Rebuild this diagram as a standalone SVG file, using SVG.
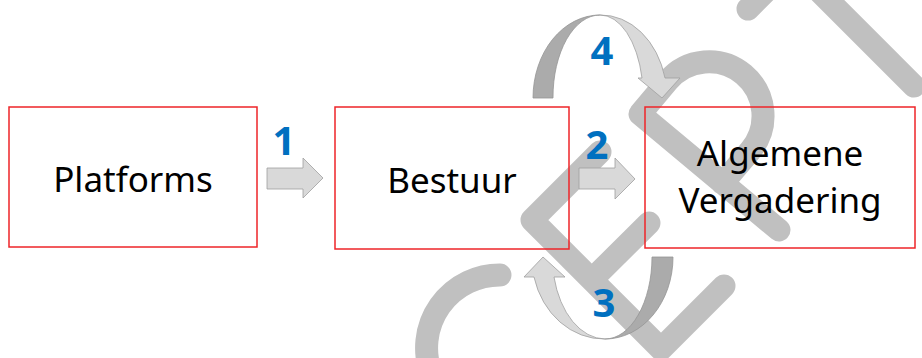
<svg xmlns="http://www.w3.org/2000/svg" width="922" height="358" viewBox="0 0 922 358">
<style>
.wm{fill:none;stroke:#C0C0C0;stroke-width:23;stroke-linecap:round;stroke-linejoin:round}
.box{fill:none;stroke:#EE2428;stroke-width:1.5}
.lbl{font-family:"Noto Sans","Open Sans",sans-serif;font-size:35px;fill:#000;text-anchor:middle}
.num{font-family:"Noto Sans","Open Sans",sans-serif;font-size:40px;font-weight:bold;fill:#0070C0;text-anchor:middle}
.lt{fill:#D9D9D9;stroke:#A0A0A0;stroke-width:0.8;stroke-linejoin:miter}
.dk{fill:#ABABAB;stroke:#959595;stroke-width:0.8}
</style>
<rect width="922" height="358" fill="#FFFFFF"/>
<g id="watermark">
<path class="wm" d="M500,275 A73,73 0 0 0 431,373"/>
<path class="wm" d="M600,152 L532,220 L661,349 L724,286 M591.75,279.75 L649,223"/>
<path class="wm" d="M779,230 L640,114 L667.6,81.1 A54,54 0 0 1 750.4,150.5 L722.7,183.4"/>
<path class="wm" d="M820,-8 L914,86 M748,9 L772,-15"/>
</g>
<g id="platforms">
<rect class="box" x="9" y="107" width="248" height="140"/>
<text class="lbl" x="133" y="192">Platforms</text>
</g>
<g id="bestuur">
<rect class="box" x="335" y="107" width="234" height="142"/>
<text class="lbl" x="452" y="193">Bestuur</text>
</g>
<g id="algemene-vergadering">
<rect class="box" x="645" y="107" width="270" height="141"/>
<text class="lbl" x="780" y="166">Algemene</text>
<text class="lbl" x="780" y="213">Vergadering</text>
</g>
<g id="connectors">
<path class="lt" d="M267,168 L303,168 L303,158 L323,178 L303,198 L303,189 L267,189 Z"/>
<path class="lt" d="M579,168 L615,168 L615,158 L635,179 L615,199 L615,189 L579,189 Z"/>
<path class="dk" d="M533,98 A67,83 0 0 1 600,15 A47,82 0 0 0 553,98 Z"/>
<path class="lt" d="M600,15 A66,83 0 0 1 665,78 L680,78 L662,98 L638,78 L642,78 A43,82 0 0 0 600,15 Z"/>
<path class="dk" d="M673,257 A68,82 0 0 1 605,339 A47,82 0 0 0 652,257 Z"/>
<path class="lt" d="M605,339 A72,82 0 0 1 534,277 L524,277 L543,257 L565,277 L554,277 A53,82 0 0 0 605,339 Z"/>
<text class="num" x="284" y="155">1</text>
<text class="num" x="597" y="159">2</text>
<text class="num" x="604" y="317">3</text>
<text class="num" x="602" y="65">4</text>
</g>
</svg>
